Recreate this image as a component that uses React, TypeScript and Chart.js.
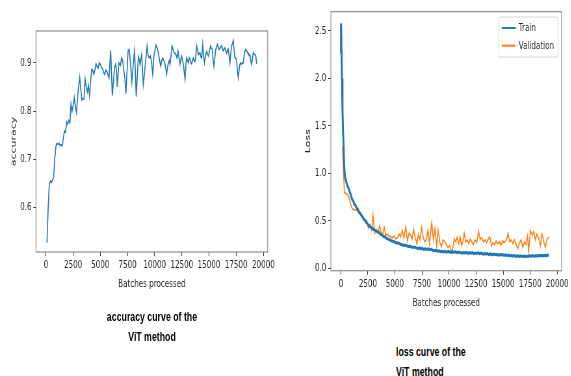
import React, { useEffect, useRef } from 'react';
import { Chart, registerables } from 'chart.js';

Chart.register(...registerables);

// horizontal squeeze of the whole picture
const S = 0.65;

const xTickValues = [0, 2500, 5000, 7500, 10000, 12500, 15000, 17500, 20000];
const accTickValues = [0.6, 0.7, 0.8, 0.9];
const lossTickValues = [0.0, 0.5, 1.0, 1.5, 2.0, 2.5];

const accBatches = [90, 200, 300, 400, 500, 600, 700, 800, 900, 1000, 1100, 1200, 1300, 1400, 1500, 1600, 1700, 1800, 1900, 2000, 2100, 2200, 2300, 2400, 2500, 2600, 2700, 2800, 2950, 3100, 3200, 3300, 3400, 3500, 3600, 3700, 3800, 3900, 4000, 4100, 4200, 4300, 4400, 4500, 4600, 4700, 4800, 4900, 5000, 5100, 5200, 5300, 5400, 5500, 5600, 5700, 5800, 5950, 6100, 6200, 6300, 6400, 6500, 6550, 6700, 6850, 6950, 7050, 7150, 7250, 7350, 7450, 7550, 7650, 7750, 7900, 8000, 8150, 8300, 8400, 8500, 8600, 8650, 8800, 8950, 9050, 9150, 9300, 9400, 9500, 9600, 9700, 9820, 9940, 10124, 10240, 10340, 10450, 10550, 10650, 10740, 10830, 10920, 11010, 11100, 11180, 11260, 11340, 11410, 11500, 11600, 11690, 11780, 11870, 11960, 12050, 12150, 12240, 12330, 12400, 12480, 12560, 12640, 12720, 12790, 12870, 12940, 13020, 13100, 13180, 13250, 13330, 13400, 13480, 13560, 13640, 13720, 13800, 13870, 13950, 14020, 14100, 14170, 14250, 14330, 14420, 14500, 14580, 14680, 14780, 14860, 14950, 15040, 15140, 15220, 15300, 15380, 15450, 15530, 15610, 15680, 15760, 15840, 15920, 16000, 16070, 16150, 16230, 16300, 16380, 16460, 16540, 16610, 16690, 16770, 16840, 16920, 17000, 17080, 17150, 17230, 17310, 17390, 17460, 17540, 17610, 17690, 17770, 17840, 17920, 18000, 18080, 18150, 18230, 18300, 18380, 18460, 18530, 18610, 18680, 18760, 18840, 18920, 19000, 19070, 19150, 19230, 19300, 19380];
const accValues = [0.527, 0.6, 0.648, 0.655, 0.652, 0.657, 0.662, 0.7, 0.725, 0.733, 0.731, 0.733, 0.729, 0.73, 0.728, 0.745, 0.759, 0.757, 0.778, 0.773, 0.781, 0.776, 0.814, 0.8, 0.812, 0.828, 0.81, 0.797, 0.84, 0.87, 0.845, 0.823, 0.826, 0.825, 0.866, 0.85, 0.84, 0.853, 0.832, 0.86, 0.886, 0.884, 0.876, 0.885, 0.898, 0.892, 0.889, 0.9, 0.897, 0.89, 0.888, 0.88, 0.876, 0.885, 0.882, 0.875, 0.869, 0.926, 0.832, 0.86, 0.89, 0.897, 0.88, 0.85, 0.9, 0.895, 0.91, 0.905, 0.886, 0.87, 0.836, 0.88, 0.925, 0.928, 0.905, 0.86, 0.89, 0.925, 0.83, 0.87, 0.913, 0.905, 0.896, 0.917, 0.855, 0.875, 0.9, 0.934, 0.915, 0.91, 0.914, 0.905, 0.876, 0.917, 0.937, 0.93, 0.921, 0.905, 0.893, 0.905, 0.91, 0.905, 0.9, 0.89, 0.876, 0.89, 0.9, 0.905, 0.897, 0.915, 0.935, 0.928, 0.921, 0.92, 0.917, 0.91, 0.924, 0.91, 0.897, 0.906, 0.914, 0.905, 0.897, 0.88, 0.866, 0.895, 0.91, 0.905, 0.9, 0.91, 0.907, 0.9, 0.898, 0.905, 0.91, 0.904, 0.903, 0.92, 0.935, 0.925, 0.917, 0.92, 0.921, 0.912, 0.91, 0.938, 0.915, 0.9, 0.915, 0.924, 0.918, 0.914, 0.925, 0.935, 0.93, 0.928, 0.905, 0.893, 0.91, 0.928, 0.93, 0.938, 0.933, 0.928, 0.93, 0.933, 0.935, 0.93, 0.925, 0.928, 0.931, 0.925, 0.92, 0.925, 0.928, 0.915, 0.9, 0.92, 0.935, 0.94, 0.946, 0.925, 0.91, 0.91, 0.905, 0.885, 0.869, 0.885, 0.897, 0.9, 0.897, 0.9, 0.9, 0.915, 0.924, 0.928, 0.925, 0.921, 0.92, 0.915, 0.917, 0.905, 0.897, 0.91, 0.921, 0.918, 0.917, 0.915, 0.898];

const trainBatches = [0, 15, 40, 100, 150, 200, 250, 300, 350, 400, 460, 520, 600, 680, 760, 840, 920, 1000, 1070, 1150, 1230, 1310, 1400, 1480, 1560, 1650, 1750, 1850, 1950, 2050, 2150, 2250, 2350, 2450, 2550, 2670, 2780, 2900, 3000, 3120, 3240, 3370, 3480, 3590, 3700, 3820, 3940, 4060, 4180, 4300, 4420, 4540, 4660, 4780, 4900, 5020, 5150, 5280, 5430, 5560, 5700, 5840, 5980, 6120, 6260, 6400, 6540, 6680, 6820, 6960, 7100, 7240, 7380, 7520, 7660, 7800, 7940, 8080, 8220, 8360, 8500, 8640, 8780, 8920, 9060, 9200, 9340, 9480, 9620, 9760, 9900, 10040, 10180, 10320, 10460, 10600, 10740, 10880, 11020, 11160, 11300, 11440, 11580, 11720, 11860, 12000, 12140, 12280, 12420, 12560, 12700, 12840, 12980, 13120, 13260, 13400, 13540, 13680, 13820, 13960, 14100, 14240, 14380, 14520, 14660, 14800, 14940, 15080, 15220, 15360, 15500, 15640, 15780, 15920, 16060, 16200, 16340, 16480, 16620, 16760, 16900, 17040, 17180, 17320, 17460, 17600, 17740, 17880, 18020, 18160, 18300, 18440, 18580, 18720, 18860, 19000, 19120, 19240];
const trainLoss = [2.26, 2.58, 2.45, 2.0, 1.67, 1.45, 1.3, 1.1, 1.0, 0.96, 0.93, 0.9, 0.87, 0.85, 0.83, 0.8, 0.77, 0.74, 0.72, 0.71, 0.68, 0.67, 0.65, 0.63, 0.625, 0.6, 0.585, 0.565, 0.55, 0.53, 0.515, 0.5, 0.485, 0.47, 0.455, 0.445, 0.43, 0.425, 0.41, 0.405, 0.395, 0.385, 0.38, 0.37, 0.355, 0.35, 0.335, 0.33, 0.32, 0.31, 0.305, 0.3, 0.29, 0.285, 0.28, 0.275, 0.265, 0.27, 0.26, 0.25, 0.245, 0.24, 0.245, 0.235, 0.23, 0.232, 0.225, 0.22, 0.225, 0.215, 0.21, 0.215, 0.205, 0.21, 0.2, 0.205, 0.198, 0.205, 0.195, 0.2, 0.19, 0.185, 0.19, 0.18, 0.185, 0.175, 0.18, 0.172, 0.178, 0.17, 0.176, 0.175, 0.168, 0.174, 0.17, 0.175, 0.165, 0.172, 0.168, 0.16, 0.167, 0.162, 0.168, 0.158, 0.165, 0.16, 0.166, 0.155, 0.162, 0.157, 0.163, 0.155, 0.16, 0.15, 0.156, 0.148, 0.155, 0.145, 0.152, 0.142, 0.15, 0.143, 0.148, 0.138, 0.145, 0.14, 0.146, 0.135, 0.142, 0.133, 0.14, 0.13, 0.137, 0.128, 0.135, 0.126, 0.133, 0.125, 0.132, 0.124, 0.13, 0.122, 0.13, 0.125, 0.133, 0.127, 0.135, 0.126, 0.134, 0.128, 0.136, 0.13, 0.137, 0.13, 0.138, 0.133, 0.14, 0.136];

const valBatches = [150, 250, 330, 450, 600, 750, 900, 1050, 1200, 1350, 1500, 1650, 1800, 1940, 2100, 2250, 2400, 2550, 2700, 2850, 2970, 3130, 3280, 3430, 3580, 3720, 3870, 4010, 4150, 4300, 4450, 4600, 4750, 4920, 5070, 5230, 5380, 5530, 5680, 5830, 6000, 6150, 6300, 6450, 6580, 6730, 6870, 7020, 7170, 7320, 7470, 7620, 7770, 7920, 8050, 8190, 8400, 8550, 8700, 8850, 9000, 9150, 9300, 9450, 9600, 9750, 9900, 10050, 10200, 10330, 10480, 10620, 10760, 10900, 11020, 11160, 11300, 11400, 11540, 11680, 11820, 11960, 12100, 12250, 12400, 12560, 12730, 12880, 13030, 13180, 13330, 13480, 13630, 13770, 13920, 14060, 14200, 14350, 14500, 14650, 14800, 14950, 15100, 15300, 15450, 15600, 15750, 15900, 16050, 16200, 16370, 16520, 16670, 16820, 16980, 17120, 17260, 17350, 17530, 17680, 17830, 17980, 18120, 18300, 18450, 18600, 18760, 18900, 19050, 19210];
const valLoss = [1.28, 1.0, 0.8, 0.79, 0.78, 0.75, 0.68, 0.63, 0.62, 0.615, 0.61, 0.58, 0.57, 0.56, 0.53, 0.51, 0.5, 0.42, 0.46, 0.4, 0.56, 0.37, 0.41, 0.37, 0.45, 0.38, 0.36, 0.43, 0.35, 0.36, 0.34, 0.33, 0.32, 0.34, 0.31, 0.32, 0.36, 0.33, 0.4, 0.32, 0.44, 0.29, 0.37, 0.35, 0.31, 0.41, 0.33, 0.26, 0.36, 0.3, 0.43, 0.32, 0.28, 0.31, 0.4, 0.26, 0.48, 0.3, 0.42, 0.24, 0.4, 0.27, 0.23, 0.3, 0.28, 0.25, 0.22, 0.24, 0.18, 0.2, 0.31, 0.28, 0.33, 0.26, 0.33, 0.24, 0.29, 0.37, 0.28, 0.3, 0.26, 0.31, 0.28, 0.25, 0.3, 0.27, 0.39, 0.31, 0.32, 0.28, 0.3, 0.27, 0.31, 0.33, 0.24, 0.27, 0.25, 0.29, 0.26, 0.28, 0.24, 0.29, 0.27, 0.3, 0.37, 0.28, 0.3, 0.26, 0.3, 0.25, 0.21, 0.27, 0.3, 0.22, 0.28, 0.25, 0.34, 0.18, 0.4, 0.35, 0.39, 0.3, 0.36, 0.31, 0.24, 0.36, 0.28, 0.22, 0.3, 0.33];

const FONT = "'DejaVu Sans', sans-serif";
const TEXT = '#262626';
const BLUE = '#1f77b4';
const ORANGE = '#ff7f0e';

const framePlugin = {
  id: 'frame',
  afterDraw(chart: any) {
    const { ctx, chartArea: a } = chart;
    ctx.save();
    ctx.strokeStyle = '#8c8c8c';
    ctx.lineWidth = 1.2;
    ctx.strokeRect(a.left, a.top, a.right - a.left, a.bottom - a.top);
    ctx.restore();
  },
};

const legendPlugin = {
  id: 'mplLegend',
  afterDraw(chart: any) {
    const { ctx, chartArea: a } = chart;
    const items = [
      { text: 'Train', color: BLUE },
      { text: 'Validation', color: ORANGE },
    ];
    ctx.save();
    ctx.font = `11px ${FONT}`;
    const tw = Math.max(...items.map((i) => ctx.measureText(i.text).width));
    const lineStart = 3 / S;
    const lineLen = 14 / S;
    const textStart = 20 / S;
    const w = textStart + tw + 4 / S;
    const h = 40;
    const right = a.right - 3.5 / S;
    const left = right - w;
    const top = a.top + 5.3;
    ctx.fillStyle = 'rgba(255,255,255,0.85)';
    ctx.strokeStyle = '#d6d6d6';
    ctx.lineWidth = 1;
    ctx.beginPath();
    if (ctx.roundRect) ctx.roundRect(left, top, w, h, 3);
    else ctx.rect(left, top, w, h);
    ctx.fill();
    ctx.stroke();
    items.forEach((it, i) => {
      const y = top + 11 + i * 17.7;
      ctx.strokeStyle = it.color;
      ctx.lineWidth = 2;
      ctx.beginPath();
      ctx.moveTo(left + lineStart, y);
      ctx.lineTo(left + lineStart + lineLen, y);
      ctx.stroke();
      ctx.fillStyle = TEXT;
      ctx.textBaseline = 'middle';
      ctx.textAlign = 'left';
      ctx.fillText(it.text, left + textStart, y);
    });
    ctx.restore();
  },
};

type Cfg = {
  datasets: any[];
  yMin: number;
  yMax: number;
  yTicks: number[];
  yTitle: string;
  plotLeft: number;
  padRight: number;
  padTop: number;
  xAxisHeight: number;
  yTitlePad: number;
  plugins: any[];
};

function makeChart(canvas: HTMLCanvasElement, c: Cfg) {
  const tickFont = { family: FONT, size: 11 };
  return new Chart(canvas, {
    type: 'line',
    data: { datasets: c.datasets },
    plugins: c.plugins,
    options: {
      responsive: false,
      animation: false,
      devicePixelRatio: 1,
      events: [],
      layout: { padding: { left: 0, right: c.padRight, top: c.padTop, bottom: 0 } },
      plugins: { legend: { display: false }, tooltip: { enabled: false } },
      elements: { point: { radius: 0 }, line: { tension: 0 } },
      scales: {
        x: {
          type: 'linear',
          min: -920,
          max: 20400,
          afterBuildTicks: (s: any) => {
            s.ticks = xTickValues.map((v) => ({ value: v }));
          },
          afterFit: (s: any) => {
            s.height = c.xAxisHeight;
          },
          grid: { display: true, drawOnChartArea: false, drawTicks: true, tickLength: 4, color: '#333' },
          border: { display: false },
          ticks: {
            font: tickFont,
            color: TEXT,
            padding: 3,
            maxRotation: 0,
            autoSkip: false,
            callback: (v: any) => String(v),
          },
          title: {
            display: true,
            text: 'Batches processed',
            font: tickFont,
            color: TEXT,
            padding: { top: 0, bottom: 9 },
          },
        },
        y: {
          type: 'linear',
          min: c.yMin,
          max: c.yMax,
          afterBuildTicks: (s: any) => {
            s.ticks = c.yTicks.map((v) => ({ value: v }));
          },
          afterFit: (s: any) => {
            s.width = c.plotLeft;
          },
          grid: { display: true, drawOnChartArea: false, drawTicks: true, tickLength: 4, color: '#333' },
          border: { display: false },
          ticks: {
            font: tickFont,
            color: TEXT,
            padding: 3,
            autoSkip: false,
            callback: (v: any) => Number(v).toFixed(1),
          },
          title: {
            display: true,
            text: c.yTitle,
            font: tickFont,
            color: TEXT,
            padding: { top: c.yTitlePad, bottom: 0 },
          },
        },
      },
    } as any,
  });
}

const pts = (xs: number[], ys: number[]) => xs.map((x, i) => ({ x, y: ys[i] }));

// canvas geometry (internal, pre-squeeze units)
const L_W = 285 / S;
const L_H = 300;
const R_LEFT = 290 / S;
const R_W = 281 / S;
const R_H = 319;

export default function App() {
  const accRef = useRef<HTMLCanvasElement>(null);
  const lossRef = useRef<HTMLCanvasElement>(null);

  useEffect(() => {
    document.body.style.margin = '0';
    document.body.style.overflow = 'hidden';
    const acc = makeChart(accRef.current!, {
      datasets: [
        {
          label: 'accuracy',
          data: pts(accBatches, accValues),
          borderColor: BLUE,
          borderWidth: 1.6,
          fill: false,
        },
      ],
      yMin: 0.508,
      yMax: 0.966,
      yTicks: accTickValues,
      yTitle: 'accuracy',
      plotLeft: 36 / S,
      padRight: L_W - 268 / S,
      padTop: 31,
      xAxisHeight: L_H - 252,
      yTitlePad: 14 / S - 6.6,
      plugins: [framePlugin],
    });
    const loss = makeChart(lossRef.current!, {
      datasets: [
        {
          label: 'Train',
          data: pts(trainBatches, trainLoss),
          borderColor: BLUE,
          borderWidth: 3,
          fill: false,
        },
        {
          label: 'Validation',
          data: pts(valBatches, valLoss),
          borderColor: ORANGE,
          borderWidth: 1.6,
          fill: false,
        },
      ],
      yMin: -0.025,
      yMax: 2.703,
      yTicks: lossTickValues,
      yTitle: 'Loss',
      plotLeft: (331 - 290) / S,
      padRight: R_W - (562 - 290) / S,
      padTop: 11.7,
      xAxisHeight: R_H - 270.7,
      yTitlePad: 18.3 / S - 6.6,
      plugins: [framePlugin, legendPlugin],
    });
    return () => {
      acc.destroy();
      loss.destroy();
    };
  }, []);

  const caption: React.CSSProperties = {
    position: 'absolute',
    fontFamily: "'Liberation Sans', Arial, sans-serif",
    fontWeight: 'bold',
    fontSize: '13.5px',
    color: '#000',
    whiteSpace: 'nowrap',
  };

  return (
    <div
      style={{
        position: 'absolute',
        left: 0,
        top: 0,
        width: 571 / S,
        height: 376,
        overflow: 'hidden',
        background: '#fff',
        transform: `scaleX(${S})`,
        transformOrigin: '0 0',
      }}
    >
      <canvas
        ref={accRef}
        width={Math.round(L_W)}
        height={L_H}
        style={{ position: 'absolute', left: 0, top: 0 }}
      />
      <canvas
        ref={lossRef}
        width={Math.round(R_W)}
        height={R_H}
        style={{ position: 'absolute', left: R_LEFT, top: 0 }}
      />
      <div style={{ ...caption, left: 0, width: 304 / S, top: 306.7, lineHeight: '20px', textAlign: 'center' }}>
        accuracy curve of the
        <br />
        ViT method
      </div>
      <div style={{ ...caption, left: 396 / S, top: 342, lineHeight: '19.5px', textAlign: 'left' }}>
        loss curve of the
        <br />
        ViT method
      </div>
    </div>
  );
}
